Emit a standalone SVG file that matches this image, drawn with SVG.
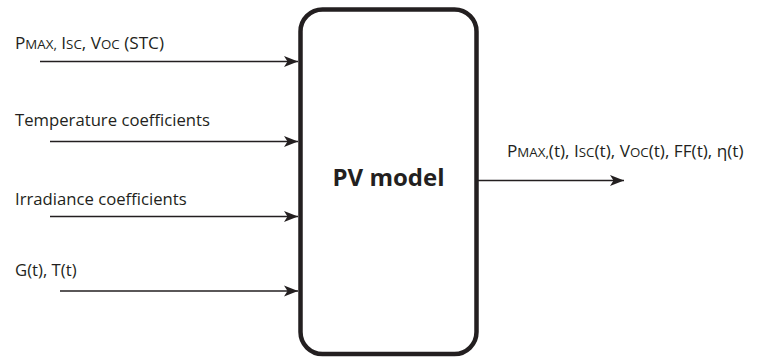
<svg xmlns="http://www.w3.org/2000/svg" width="762" height="358" viewBox="0 0 762 358">
<defs>
<marker id="ah" markerUnits="userSpaceOnUse" markerWidth="16" markerHeight="12" viewBox="-15 -6 16 12" refX="0" refY="0" orient="auto">
<path d="M0,0 L-14,-5.5 L-10.5,0 L-14,5.5 Z" fill="#231f20"/>
</marker>
</defs>
<style>
text{font-family:"Open Sans","Noto Sans","Liberation Sans",sans-serif;fill:#231f20;font-size:16.7px}
.m{font-size:17.2px}
.s{font-size:13.3px}
.c{stroke:#231f20;stroke-width:1.5;fill:none;marker-end:url(#ah)}
.b{font-weight:bold;font-size:24px}
</style>
<rect width="762" height="358" fill="#fff"/>
<g id="connectors">
<line class="c" x1="40" y1="61.5" x2="298" y2="61.5"/>
<line class="c" x1="50" y1="141.5" x2="298" y2="141.5"/>
<line class="c" x1="50" y1="216.5" x2="298" y2="216.5"/>
<line class="c" x1="60" y1="291" x2="298" y2="291"/>
<line class="c" x1="478" y1="180.5" x2="624" y2="180.5"/>
</g>
<g id="pv-model">
<rect x="300.5" y="9.5" width="176" height="344.5" rx="22" fill="#fff" stroke="#231f20" stroke-width="4.5"/>
<text class="b" x="388.5" y="186" text-anchor="middle">PV model</text>
</g>
<g id="in-stc">
<text class="m" x="15" y="49">P<tspan class="s">MAX,</tspan> I<tspan class="s">SC</tspan>, V<tspan class="s">OC</tspan> (STC)</text>
</g>
<g id="in-temp">
<text x="15" y="126">Temperature coefficients</text>
</g>
<g id="in-irr">
<text x="15" y="205">Irradiance coefficients</text>
</g>
<g id="in-gt">
<text x="15" y="276">G(t), T(t)</text>
</g>
<g id="out">
<text class="m" x="507" y="156.5">P<tspan class="s">MAX,</tspan>(t), I<tspan class="s">SC</tspan>(t), V<tspan class="s">OC</tspan>(t), FF(t), η(t)</text>
</g>
</svg>
